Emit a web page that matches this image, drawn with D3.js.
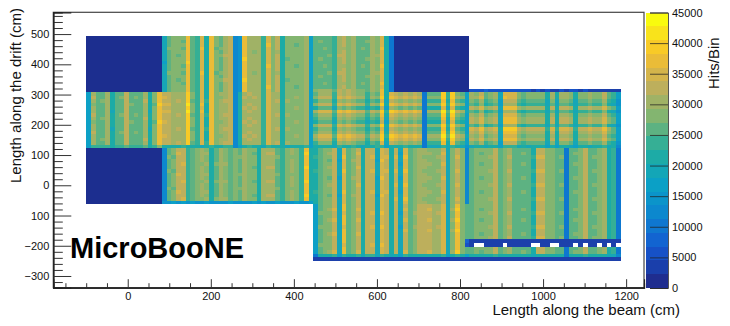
<!DOCTYPE html>
<html>
<head>
<meta charset="utf-8">
<script src="https://cdnjs.cloudflare.com/ajax/libs/d3/7.8.5/d3.min.js"></script>
<style>
    body { margin: 0; background: #fff; }
    text { font-family: "Liberation Sans", Arial, sans-serif; fill: #111; }
</style>
</head>
<body>
<div id="chart"></div>
<script>
// axis ticks
const xTicks = [0, 200, 400, 600, 800, 1000, 1200];
const xMinorTicks = [-150, -100, -50, 50, 100, 150, 250, 300, 350, 450, 500, 550, 650, 700, 750, 850, 900, 950, 1050, 1100, 1150];
const yTicks = [500, 400, 300, 200, 100, 0, -100, -200, -300];
const yTickLabels = ["500", "400", "300", "200", "100", "0", "100", "\u2212200", "\u2212300"];
const zTicks = [0, 5000, 10000, 15000, 20000, 25000, 30000, 35000, 40000, 45000];

// histogram binning (cm), the z contour step (hits), and the step of the row codes below
const xFirstBin = -100, xBinWidth = 11.39;
const yFirstBin = 493.5, yBinHeight = 11.6;
const zBandHits = 2250;
const hitsPerCode = 2100;

// one char per bin, base 36: hits in the bin in steps of hitsPerCode. "." = empty bin
const topRows = [
    "0000000000000000 9cdddhcbgahdcef5 6heeebgdfadddde8 ccccbefdecccedga4 0000000000000000 ................................",
    "0000000000000000 9cddchcbgahdcef5 6heeebgdfadddde8 cdccbefdeccdedga4 0000000000000000 ................................",
    "0000000000000000 9cdddhcbgahdcef5 6heeebhdfaddcde8 ccccbefdecccedga4 0000000000000000 ................................",
    "0000000000000000 9dddchcbhahcdef5 6heeebgdfadddde8 ccdcbeedecdcedha4 0000000000000000 ................................",
    "0000000000000000 9cdddhcbgahdcef5 6hedebgdeadddde8 ccccbefdecccedga4 0000000000000000 ................................",
    "0000000000000000 9cdcdhcbgahddff5 6heeebgdfadddde8 cccdbffdeccceega4 0000000000000000 ................................",
    "0000000000000000 9cdddhcbgahdcef5 6ieeebgdfacddde8 cdccbefdeccdedga4 0000000000000000 ................................",
    "0000000000000000 8cdddicbgahdcef5 6heeebgdfadddde8 ccccbefdecccedga4 0000000000000000 ................................",
    "0000000000000000 9cddchcbgahdcef5 6heeebhdfaddcde8 ccdcbeedecdcedha4 0000000000000000 ................................",
    "0000000000000000 9cdddhcbgahdcef5 6heeebgdfadddde8 ccccbefdecccedga4 0000000000000000 ................................",
    "0000000000000000 9dddchcbhahcdef5 6hedebgdeadddde8 cccdbffdeccceega4 0000000000000000 ................................",
    "0000000000000000 9cdddhcbgahdcef5 6heeebgdfadddde8 cdccbefdeccdedga4 0000000000000000 ................................",
    "0000000000000000 9cdcdhcbgahddff5 6ieeebgdfacddde8 ccccbefdecccedga4 0000000000000000 ................................",
    "0000000000000000 9cddchcbgahdcef5 6heeebgdfadddde8 ccdcbeedecdcedha4 0000000000000000 ................................",
    "0000000000000000 9cdddhcbgahdcef5 6heeebhdfaddcde8 ccccbefdecccedga4 0000000000000000 ................................",
    "0000000000000000 9cdddhcbgahdcef5 6heeebgdfadddde8 deeecfefeddcedha4 0000000000000000 22232222222221212112122121111111"
];
const upperRows = [
    "7ecceaccfccceadh ffeeeidbgahdeef5 aefeebgeeadddde8 ceeebfefeddbdchag fefefe4cccibidc8 edfcde9gggdcddddaeaeedaddeddfcb7",
    "7fcceacdfcdceadh gfeeeidbgahddef5 afefebgeeaddede8 dfffbgfgfeebediah gfgfgf4dddibied8 eegcde9hggdcddddaeaeedaddeddfcb7",
    "7ecdeaccfcccfadh ffefeicbgbhdeff5 aeeeebgefaeddde8 bdddaededccacbg9f ededed4bbbhahcb8 dcebcd8fffcbcccc9d9ddc9ccdcceba6",
    "7dcceaccfdcceaci ggeeejdbhahdeef5 aefeebgeeadddde8 dfffbgfgfeebediah gfgfgf4dddibied8 cbdabc8eeebabbbb9c9ccb9bbcbbda96",
    "7ecceaccfccceadh ffeeeidbgahdeef5 afefebgeeaddede8 accc9dcdcbb9baf8e dcdcdc4aaag9gba7 fegdef9hhhedeeeeafaffeaeefeegdc7",
    "7ecce9ccfccce9dh ggeeejdbhahdeef5 aefeebgeeadddde8 egggchghgffcfeibi hghghg4eeejcjfe9 cbdabc8eeebabbbb9c9ccb9bbcbbda96",
    "7fcceacdfcdceadh ffefeicbgbhdeff5 aeeeebgefaeddde8 ceeebfefeddbdchag fefefe4cccibidc8 edfcde9gggdcddddaeaeedaddeddfcb7",
    "7ecdeaccfcccfadh ffeeeidbgahdeef5 aefeebgeeadddde8 bdddaededccacbg9f ededed4bbbhahcb8 fegdef9hhhedeeeeafaffeaeefeegdc7",
    "7dcceaccfdcceaci gfeeeidbgahddef5 afefebgeeaddede8 accc9dcdcbb9baf8e dcdcdc4aaag9gba7 fegdef9hhhedeeeeafaffeaeefeegdc7",
    "7ecceaccfccceadh ffeeeidbgahdeef5 aefeebgeeadddde8 dfffbgfgfeebediah gfgfgf4dddibied8 cbdabc8eeebabbbb9c9ccb9bbcbbda96",
    "7ecce9ccfccce9dh ffefeicbgbhdeff5 aeeeebgefaeddde8 bdddaededccacbg9f ededed4bbbhahcb8 gfhefgaiiifeffffbgbggfbffgffhec7",
    "7fcceacdfcdceadh ffeeeidbgahdeef5 aefeebgeeadddde8 ceeebfefeddbdchag fefefe4cccibidc8 fegdef9hhhedeeeeafaffeaeefeegdc7",
    "7ecceaccfccceadh gfeeeidbgahddef5 afefebgeeaddede8 egggchghgffcfeibi hghghg4eeejcjfe9 edfcde9gggdcddddaeaeedaddeddfcb7",
    "7ecdeaccfcccfadh ffeeeidbgahdeef5 aefeebgeeadddde8 dfffbgfgfeebediah gfgfgf4dddibied8 fegdef9hhhedeeeeafaffeaeefeegdc7",
    "7ecceaccfccceadh ffefeicbgbhdeff5 aeeeebgefaeddde8 bdddaededccacbg9f ededed4bbbhahcb8 dcebcd8fffcbcccc9d9ddc9ccdcceba6",
    "7bbbbabbcbbbcabd aaaabaaa9abaabb5 8abaa9baaa9aaab8 aaaa9baaba9aabb8a aabaaa4999b9ba96 9aa9aa8bbb9a9aaa8a8aa98aa9aab9a5"
];
const lowerRows = [
    "0000000000000000 5cdffbcdedacedcd ceddaeeecbdedbha acddf9gcdfaff9gfa f9gcdeedddf9dfd5 cddddfcdeccccaffddcc4ccdfccdeab4",
    "0000000000000000 5cdgfbcdeeacedcd cedcaeffcbdedbia acdef9gcdgaff9gfa f8gcdeeeddg9dfd5 cdcddfcdeccdcaffddcc4cddfccdeab4",
    "0000000000000000 5dcffbcdedacedcd deddaeeedbdddbha bcddf9hcdfafg9gga g9hcdedddef9dgd5 cdddefcdfccccbggddcd4ccdfcddeab4",
    "0000000000000000 5cdffbcdedacedcd ceddaeeecbdedbha acdcf8gcefaff8hfa f9gcdeedddf9dfd5 cddddfcdeccccaffddcc4ccdfccdeab4",
    "0000000000000000 5cdfgbcddeadeecd ceddaeeecbdedbha acddf9gcdfaff9gfa f8gcdeeeddg9dfd5 cdcddfcdeccdcaffddcc4cddfccdeab4",
    "0000000000000000 5cdffbcdedacedcd cedcaeffcbdedbia acdef9gcdgaff9gfa f9gcdeedddf9dfd5 cddddfcdeccccaffddcc4ccdfccdeab4",
    "0000000000000000 5dcffbcdedacedcd ceddaeeecbdedbha bcddf9hcdfafg9gga g9hcdedddef9dgd5 cdddefcdfccccbggddcd4ccdfcddeab4",
    "0000000000000000 5cdgfbcdeeacedcd deddaeeedbdddbha acddf9gcdfaff9gfa f9gcdeedddf9dfd5 cddddfcdeccccaffddcc4ccdfccdeab4",
    "0000000000000000 5cdffbcdedacedcd ceddaeeecbdedbha acdcf8gcefaff8hfa f8gcdeeeddg9dfd5 cdcddfcdeccdcaffddcc4cddfccdeab4",
    "0000000000000000 5cdfgbcddeadeecd cedcaeffcbdedbia acddf9gcdfaff9gfa f9gcdeedddf9dfd5 cddddfcdeccccaffddcc4ccdfccdeab4",
    "0000000000000000 5cdffbcdedacedcd ceddaeeecbdedbha acdef9gcdgaff9gfa g9hcdedddef9dgd5 cdddefcdfccccbggddcd4ccdfcddeab4",
    "0000000000000000 5dcffbcdedacedcd deddaeeedbdddbha acddf9gcdfaff9gfa f9gcdeedddf9dfd5 cddddfcdeccccaffddcc4ccdfccdeab4",
    "0000000000000000 5cdgfbcdeeacedcd ceddaeeecbdedbha bcddf9hcdfafg9gga f8gcdeeeddg9dfd5 cdcddfcdeccdcaffddcc4cddfccdeab4",
    "0000000000000000 5cdffbcdedacedcd cedcaeffcbdedbia acdcf8gcefaff8hfa f9gcdeedddf9dfd5 cddddfcdeccccaffddcc4ccdfccdeab4",
    "0000000000000000 5cdfgbcddeadeecd ceddaeeecbdedbha acddf9gcdfaff9gfa g9hcdedddef9dgd5 cdddefcdfccccbggddcd4ccdfcddeab4",
    "0000000000000000 6676767667666676 6667676676667667 acddf9gcdfaff9gfa f9gcdeedddf9dfd5 cddddfcdeccccaffddcc4ccdfccdeab4"
];
const bottomRows = [
    "................ ................ ................ 7cddf9hcdfaff9gfa f9fcdfffeeg9dhdc cddddfcdeccccaffddcc4ccdfccdeab4",
    "................ ................ ................ 7cdeg9hcdgaff9gfa f9gcdffgeeg9eidc cdcddfcdeccdcaffddcc4cddfccdeab4",
    "................ ................ ................ 7dddf9gcdfafg9hfa f8fcefffefg9dhdc cdddefcdfccccbggddcd4ccdfcddeab4",
    "................ ................ ................ 7cddf9hcdfaff9gfa f9fcdfffeeg9dhdc cddddfcdeccccaffddcc4ccdfccdeab4",
    "................ ................ ................ 7cdeg9hcdgaff9gfa f9gcdffgeeg9eidc cdcddfcdeccdcaffddcc4cddfccdeab4",
    "................ ................ ................ 7cddf9hcdfaff9gfa f9fcdfffeeg9dhdc cddddfcdeccccaffddcc4ccdfccdeab4",
    "................ ................ ................ 7dddf9gcdfafg9hfa f8fcefffefg9dhdc cdddefcdfccccbggddcd4ccdfcddeab4",
    "................ ................ ................ 7cddf9hcdfaff9gfa f9gcdffgeeg9eidc cddddfcdeccccaffddcc4ccdfccdeab4",
    "................ ................ ................ 7cdeg9hcdgaff9gfa f9fcdfffeeg9dhdc cdcddfcdeccdcaffddcc4cddfccdeab4",
    "................ ................ ................ 7cddf9hcdfaff9gfa f9fcdfffeeg9dhdc cdddefcdfccccbggddcd4ccdfcddeab4",
    "................ ................ ................ 7cddf9hcdfaff9gfa f9fcdfffeeg9dhd3 11111111111111111111111111111111",
    "................ ................ ................ 7dddf9gcdfafg9hfa f9fcdfffeeg9dhd2 1..1111.11111..11..111.1.11.1.1.",
    "................ ................ ................ 7cddf9hcdfaff9gfa f9fcdfffeeg9dhdc cddddfcdeccccaffddcc4ccdfccdeab4",
    "................ ................ ................ 7cdeg9hcdgaff9gfa f9gcdffgeeg9eidc cdcddfcdeccdcaffddcc4cddfccdeab4",
    "................ ................ ................ 4aaab8baab9bb9ba9 a8baaaaaaab8aba8 aaaaabaaaaaaa9aaaaaa4aaabaaaa995",
    "................ ................ ................ 11111111111111111 1111111111111111 11111111111111111111111111111111"
];

const width = 730, height = 326;

const x = d3.scaleLinear().domain([-179.2, 1243]).range([53.3, 644]);
const y = d3.scaleLinear().domain([572, -338.7]).range([12.3, 287.7]);
const z = d3.scaleLinear().domain([0, 45000]).range([288, 12.5]);

// ROOT "bird" palette, 20 contours
const bird = d3.scaleLinear()
    .domain(d3.range(9).map(i => i / 8))
    .range(["#1f2d8f", "#1458d2", "#0c85cf", "#0ba2c5", "#22ad9e", "#7fb571", "#c4ae5a", "#f8c12c", "#f9fb0e"]);
const zColor = d3.scaleQuantize()
    .domain([0, 45000])
    .range(d3.range(20).map(i => bird(i / 19)));

const svg = d3.select("#chart").append("svg")
    .attr("width", width)
    .attr("height", height);

// the picture is a resampled bitmap, so soften the bins a little
svg.append("filter").attr("id", "soft")
    .append("feGaussianBlur").attr("stdDeviation", 0.6);

// turn the rows into bins
let bins = [];
topRows.concat(upperRows, lowerRows, bottomRows).forEach((row, r) => {
    row.replace(/ /g, "").split("").forEach((c, i) => {
        if (c === ".") return;
        bins.push({
            x0: xFirstBin + i * xBinWidth,
            y0: yFirstBin - r * yBinHeight,
            hits: (parseInt(c, 36) + 0.5) * hitsPerCode
        });
    });
});

svg.append("g")
    .attr("filter", "url(#soft)")
    .selectAll("rect")
    .data(bins)
    .enter()
    .append("rect")
    .attr("x", d => x(d.x0))
    .attr("y", d => y(d.y0))
    .attr("width", d => x(d.x0 + xBinWidth) - x(d.x0))
    .attr("height", d => y(d.y0 - yBinHeight) - y(d.y0))
    .attr("shape-rendering", "crispEdges")
    .attr("fill", d => zColor(d.hits));

// frame
svg.append("rect")
    .attr("x", x.range()[0])
    .attr("y", y.range()[0])
    .attr("width", x.range()[1] - x.range()[0])
    .attr("height", y.range()[1] - y.range()[0])
    .attr("fill", "none")
    .attr("stroke", "#444")
    .attr("stroke-width", 1.2);

// x axis
const xMinorAxis = svg.append("g")
    .attr("transform", `translate(0, ${y.range()[1]})`)
    .call(d3.axisBottom(x).tickValues(xMinorTicks).tickSize(-4.5).tickFormat(""));
const xAxis = svg.append("g")
    .attr("transform", `translate(0, ${y.range()[1]})`)
    .call(d3.axisBottom(x).tickValues(xTicks).tickSize(-8.5).tickPadding(5).tickFormat(d => d));

// y axis
const yMinorValues = d3.range(560, -340, -20).filter(v => v % 100 !== 0);
const yMinorAxis = svg.append("g")
    .attr("transform", `translate(${x.range()[0]}, 0)`)
    .call(d3.axisLeft(y).tickValues(yMinorValues).tickSize(-9.5).tickFormat(""));
const yAxis = svg.append("g")
    .attr("transform", `translate(${x.range()[0]}, 0)`)
    .call(d3.axisLeft(y).tickValues(yTicks).tickSize(-18).tickPadding(4).tickFormat((d, i) => yTickLabels[i]));

[xMinorAxis, xAxis, yMinorAxis, yAxis].forEach(a => {
    a.selectAll("text").attr("font-size", 11).attr("font-family", null);
    a.selectAll("line").attr("stroke", "#333");
    a.select(".domain").attr("stroke", "#222").attr("stroke-width", 1.2);
});

// color bar
const zBands = d3.range(20).map(i => i * zBandHits);
svg.append("g")
    .selectAll("rect")
    .data(zBands)
    .enter()
    .append("rect")
    .attr("x", 646)
    .attr("width", 22)
    .attr("y", d => z(d + zBandHits))
    .attr("height", d => z(d) - z(d + zBandHits))
    .attr("shape-rendering", "crispEdges")
    .attr("fill", d => zColor(d + 1));

const zAxis = svg.append("g")
    .attr("transform", "translate(668, 0)")
    .call(d3.axisRight(z).tickValues(zTicks).tickSize(-18).tickPadding(4).tickFormat(d3.format("d")));
zAxis.selectAll("text").attr("font-size", 11).attr("font-family", null);
zAxis.selectAll("line").attr("stroke", "#222").attr("stroke-opacity", 0.75);
zAxis.select(".domain").attr("stroke", "#555");

// titles
svg.append("text")
    .attr("x", 680)
    .attr("y", 315)
    .attr("text-anchor", "end")
    .attr("font-size", 15)
    .text("Length along the beam (cm)");

svg.append("text")
    .attr("transform", "translate(21, 183) rotate(-90)")
    .attr("font-size", 15)
    .text("Length along the drift (cm)");

svg.append("text")
    .attr("transform", "translate(719, 89) rotate(-90)")
    .attr("font-size", 15)
    .text("Hits/Bin");

svg.append("text")
    .attr("x", 70)
    .attr("y", 258)
    .attr("font-size", 29)
    .attr("font-weight", "bold")
    .style("fill", "#000")
    .text("MicroBooNE");
</script>
</body>
</html>
